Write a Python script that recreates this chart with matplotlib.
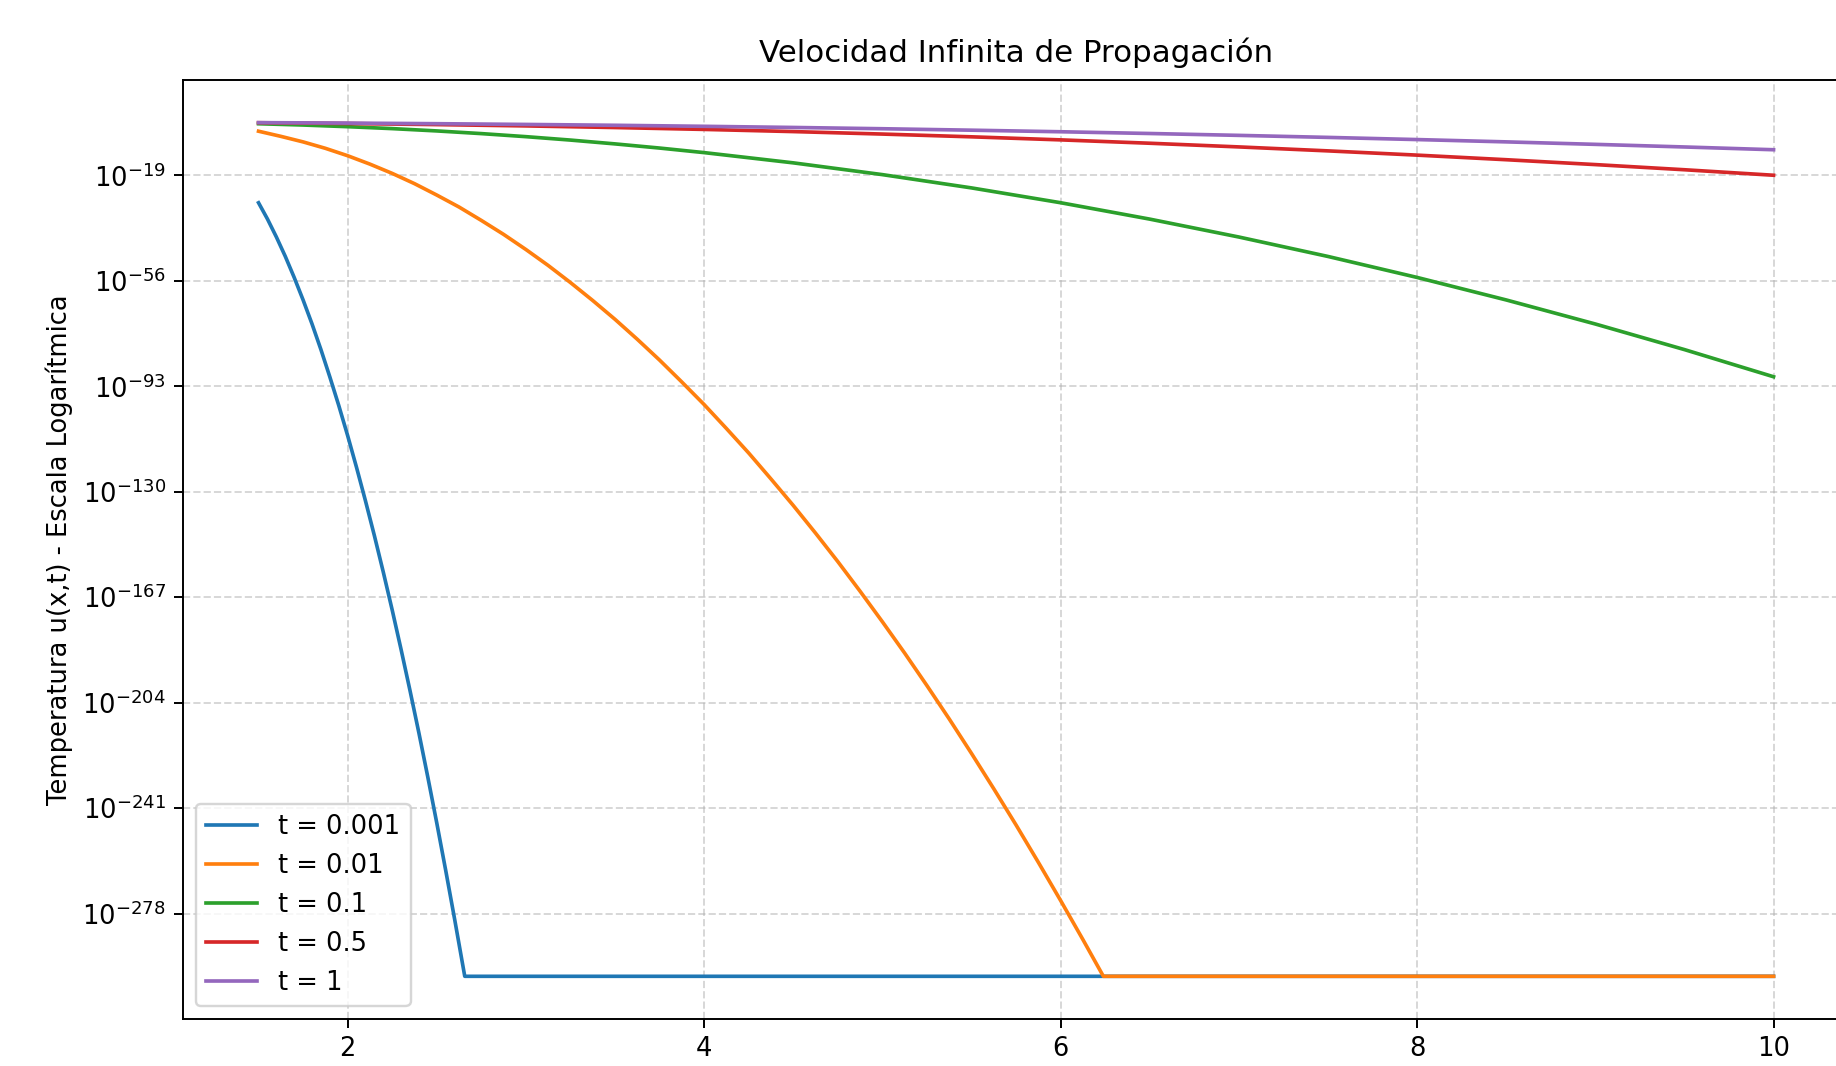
import numpy as np
import matplotlib
matplotlib.use("Agg")
import matplotlib.pyplot as plt
from matplotlib.ticker import NullLocator

# ---- data: log10 of u(x,t) (floor at 1e-300) ----
times = ["0.001", "0.01", "0.1", "0.5", "1"]

x_t0001 = [1.5, 1.55, 1.6, 1.65, 1.7, 1.75, 1.8, 1.85, 1.9, 1.95, 2.0, 2.05,
           2.1, 2.15, 2.2, 2.25, 2.3, 2.35, 2.4, 2.45, 2.5, 2.55, 2.6, 2.625,
           2.657, 10.0]
log_u_t0001 = [-28.6, -34.3, -40.6, -47.4, -54.8, -62.7, -71.1, -80.1, -89.7,
               -99.7, -110.3, -121.5, -133.2, -145.4, -158.2, -171.5, -185.4,
               -199.8, -214.7, -230.2, -246.2, -262.8, -279.9, -288.7,
               -300.0, -300.0]

x_t001 = [1.5, 1.625, 1.75, 1.875, 2.0, 2.125, 2.25, 2.375, 2.5, 2.625, 2.75,
          2.875, 3.0, 3.125, 3.25, 3.375, 3.5, 3.625, 3.75, 3.875, 4.0, 4.125,
          4.25, 4.375, 4.5, 4.625, 4.75, 4.875, 5.0, 5.125, 5.25, 5.375, 5.5,
          5.625, 5.75, 5.875, 6.0, 6.125, 6.24, 10.0]
log_u_t001 = [-3.5, -5.3, -7.25, -9.5, -12.1, -15.05, -18.3, -21.9, -25.9,
              -30.1, -34.8, -39.7, -45.0, -50.6, -56.6, -62.9, -69.5, -76.5,
              -83.8, -91.5, -99.4, -107.8, -116.4, -125.5, -134.8, -144.5,
              -154.5, -164.9, -175.6, -186.6, -198.0, -209.7, -221.8, -234.2,
              -246.9, -260.0, -273.4, -287.1, -300.0, -300.0]

x_t01 = [1.5, 1.75, 2.0, 2.25, 2.5, 2.75, 3.0, 3.25, 3.5, 3.75, 4.0, 4.5, 5.0,
         5.5, 6.0, 6.5, 7.0, 7.5, 8.0, 8.5, 9.0, 9.5, 10.0]
log_u_t01 = [-0.88, -1.33, -1.91, -2.59, -3.40, -4.34, -5.41, -6.61, -7.95,
             -9.41, -11.01, -14.60, -18.73, -23.39, -28.59, -34.34, -40.62,
             -47.44, -54.80, -62.70, -71.14, -80.12, -89.65]

x_t05 = [1.5, 2.0, 2.5, 3.0, 3.5, 4.0, 4.5, 5.0, 5.5, 6.0, 6.5, 7.0, 7.5, 8.0,
         8.5, 9.0, 9.5, 10.0]
log_u_t05 = [-0.52, -0.80, -1.18, -1.64, -2.21, -2.87, -3.63, -4.50, -5.47,
             -6.54, -7.72, -9.01, -10.40, -11.89, -13.50, -15.21, -17.02, -18.95]

x_t1 = [1.5, 2.0, 2.5, 3.0, 3.5, 4.0, 4.5, 5.0, 5.5, 6.0, 6.5, 7.0, 7.5, 8.0,
        8.5, 9.0, 9.5, 10.0]
log_u_t1 = [-0.49, -0.65, -0.86, -1.12, -1.42, -1.78, -2.18, -2.63, -3.14,
            -3.69, -4.30, -4.96, -5.67, -6.43, -7.24, -8.11, -9.03, -10.0]

y_tick_exponents = [-278, -241, -204, -167, -130, -93, -56, -19]
x_ticks = [2, 4, 6, 8, 10]

series = [
    (x_t0001, log_u_t0001),
    (x_t001, log_u_t001),
    (x_t01, log_u_t01),
    (x_t05, log_u_t05),
    (x_t1, log_u_t1),
]

# ---- figure ----
plt.rcParams["font.size"] = 10.6
DPI = 175
fig = plt.figure(figsize=(1837 / DPI, 1066 / DPI), dpi=DPI)
ax = fig.add_axes([0.0995, 0.0441, 0.9072, 0.8809])

for t, (xs, ls) in zip(times, series):
    ax.plot(xs, 10.0 ** np.array(ls, dtype=float), label=f"t = {t}")

ax.set_yscale("log")
ax.set_yticks(10.0 ** np.array(y_tick_exponents, dtype=float),
              labels=[f"$10^{{{e}}}$" for e in y_tick_exponents])
ax.yaxis.set_minor_locator(NullLocator())
ax.set_xticks(x_ticks)

ax.set_title("Velocidad Infinita de Propagación", pad=7.5)
ax.set_ylabel("Temperatura u(x,t) - Escala Logarítmica")
ax.grid(True, which="major", linestyle="--", alpha=0.5)
ax.legend(loc="lower left")

fig.savefig("out.png", dpi=DPI)
